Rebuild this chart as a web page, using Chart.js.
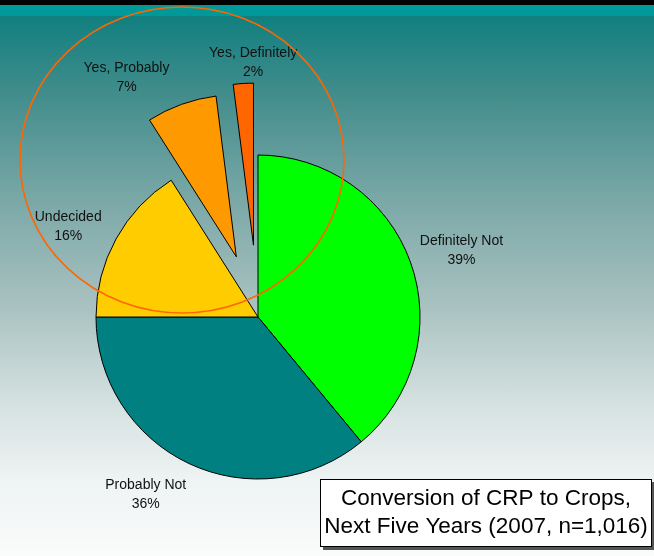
<!DOCTYPE html>
<html>
<head>
<meta charset="utf-8">
<title>Conversion of CRP to Crops</title>
<script src="https://cdn.jsdelivr.net/npm/chart.js@4.4.1/dist/chart.umd.min.js"></script>
<style>
    html, body { margin: 0; padding: 0; }
    body {
        width: 654px;
        height: 556px;
        overflow: hidden;
        background: linear-gradient(to bottom,
            #000000 0px, #000000 5px,
            #009999 5px, #009999 16px,
            #117f7f 16px, #3f8c8b 90px, #7aa8a7 200px, #a6c0bf 300px,
            #d3e0df 400px, #eef3f3 480px, #fafbfb 556px);
    }
    #wrap { position: relative; width: 654px; height: 556px; }
</style>
</head>
<body>
<div id="wrap"><canvas id="crpChart" width="654" height="556"></canvas></div>
<script>
// =========================================================================
// DATA
// =========================================================================
const categories = ['Definitely Not', 'Probably Not', 'Undecided', 'Yes, Probably', 'Yes, Definitely'];
const percentages = [39, 36, 16, 7, 2];
const sliceColors = ['#00FF00', '#008080', '#FFCC00', '#FF9900', '#FF6600'];
const titleLines = ['Conversion of CRP to Crops,', 'Next Five Years (2007, n=1,016)'];

// =========================================================================
// PLUGINS
// =========================================================================

// Pull the two "yes" slices out of the pie without growing their radius
// (the built-in `offset` option also enlarges the arc, so shift the centre instead)
const explodeSlices = {
    id: 'explodeSlices',
    afterDatasetUpdate(chart, args, opts) {
        const meta = chart.getDatasetMeta(args.index);
        meta.data.forEach((arc, i) => {
            const d = opts.distance[i] || 0;
            if (!d) return;
            const mid = (arc.startAngle + arc.endAngle) / 2;
            arc.x += Math.cos(mid) * d;
            arc.y += Math.sin(mid) * d;
        });
    }
};

// Category + percent labels placed around each slice
const sliceLabels = {
    id: 'sliceLabels',
    afterDatasetsDraw(chart, args, opts) {
        const ctx = chart.ctx;
        const meta = chart.getDatasetMeta(0);
        ctx.save();
        ctx.font = '14px "Liberation Sans", Arial, sans-serif';
        ctx.fillStyle = '#111111';
        ctx.textAlign = 'center';
        ctx.textBaseline = 'middle';
        meta.data.forEach((arc, i) => {
            const mid = (arc.startAngle + arc.endAngle) / 2;
            const dist = arc.outerRadius + 50;
            const lx = arc.x + Math.cos(mid) * dist + opts.nudge[i][0];
            const ly = arc.y + Math.sin(mid) * dist + opts.nudge[i][1];
            ctx.fillText(categories[i], lx, ly - 9);
            ctx.fillText(percentages[i] + '%', lx, ly + 10);
        });
        ctx.restore();
    }
};

// Orange highlight ring round the "yes" answers, plus the title box
const overlay = {
    id: 'overlay',
    afterDraw(chart) {
        const ctx = chart.ctx;
        ctx.save();
        ctx.strokeStyle = '#FF6600';
        ctx.lineWidth = 1.6;
        ctx.beginPath();
        ctx.ellipse(182, 160, 162, 153, 0, 0, Math.PI * 2);
        ctx.stroke();

        // title box with drop shadow
        const bx = 320, by = 479, bw = 332, bh = 68;
        ctx.fillStyle = '#555555';
        ctx.fillRect(bx + 3, by + 3, bw, bh);
        ctx.fillStyle = '#ffffff';
        ctx.fillRect(bx, by, bw, bh);
        ctx.strokeStyle = '#000000';
        ctx.lineWidth = 1;
        ctx.strokeRect(bx + 0.5, by + 0.5, bw - 1, bh - 1);

        ctx.fillStyle = '#000000';
        ctx.font = '22.5px "Liberation Sans", Arial, sans-serif';
        ctx.textAlign = 'center';
        ctx.textBaseline = 'middle';
        ctx.fillText(titleLines[0], bx + bw / 2, by + 20);
        ctx.fillText(titleLines[1], bx + bw / 2, by + 48);
        ctx.restore();
    }
};

// =========================================================================
// CHART
// =========================================================================
new Chart(document.getElementById('crpChart').getContext('2d'), {
    type: 'pie',
    data: {
        labels: categories,
        datasets: [{
            data: percentages,
            backgroundColor: sliceColors,
            borderColor: '#000000',
            borderWidth: 1
        }]
    },
    options: {
        responsive: false,
        animation: false,
        radius: 162,
        layout: { padding: { left: 0, right: 138, top: 100, bottom: 22 } },
        plugins: {
            legend: { display: false },
            title: { display: false },
            tooltip: { enabled: false },
            explodeSlices: { distance: [0, 0, 0, 64, 72] },
            sliceLabels: { nudge: [[4, 5], [-22, -15], [-4, 11], [-38, 20], [13, 29]] }
        }
    },
    plugins: [explodeSlices, sliceLabels, overlay]
});
</script>
</body>
</html>
